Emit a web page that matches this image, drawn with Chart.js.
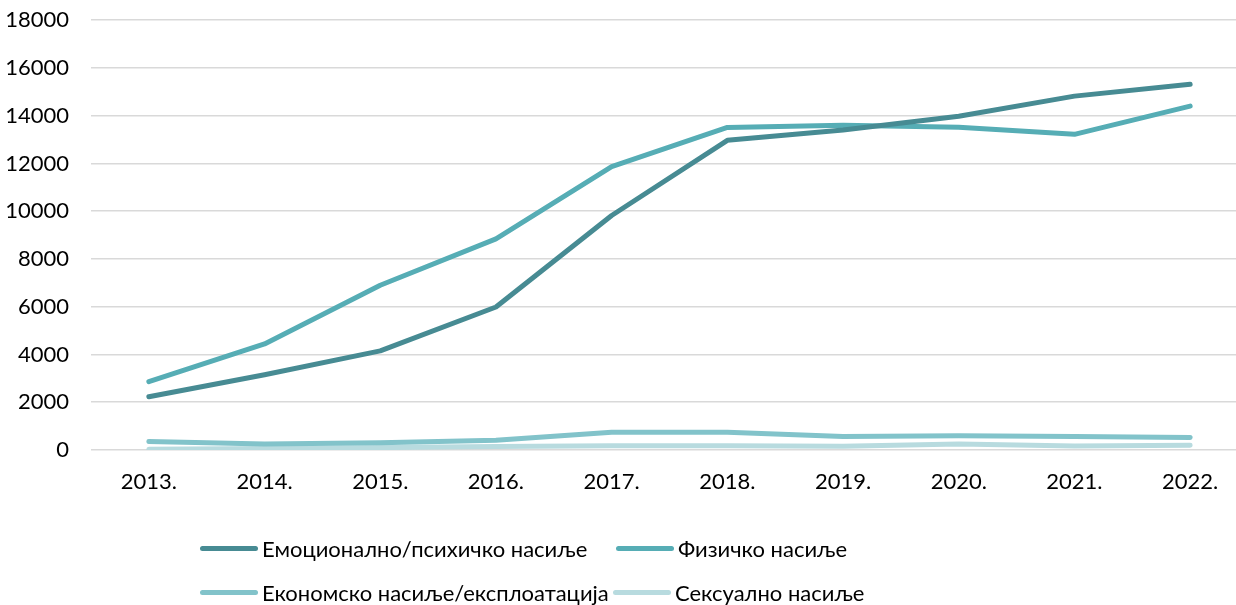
<!DOCTYPE html>
<html>
<head>
<meta charset="utf-8">
<script src="https://cdn.jsdelivr.net/npm/chart.js@4/dist/chart.umd.min.js"></script>
<style>
  html, body { margin: 0; padding: 0; background: #fff; overflow: hidden; }
  #wrap { position: relative; width: 1250px; height: 515px; margin-top: -15px; }
  #legend { position: absolute; left: 0; top: 0; width: 1236px; height: 605px; pointer-events: none; }
  .item { position: absolute; display: flex; align-items: center; font-family: Lato, sans-serif; font-size: 22px; color: #000; white-space: nowrap; }
  .item span.ln { display: inline-block; width: 58px; height: 5px; border-radius: 3px; margin-right: 4px; }
</style>
</head>
<body>
<div id="wrap"><canvas id="chart" width="1250" height="515"></canvas></div>
<div id="legend"></div>
<script>
var years = ["2013.", "2014.", "2015.", "2016.", "2017.", "2018.", "2019.", "2020.", "2021.", "2022."];
var emotional = [2230, 3150, 4150, 5990, 9820, 12970, 13400, 13980, 14820, 15320];
var physical = [2860, 4440, 6900, 8840, 11870, 13510, 13600, 13520, 13220, 14400];
var economic = [360, 250, 300, 410, 740, 740, 570, 600, 570, 520];
var sexual = [30, 60, 100, 150, 180, 180, 160, 250, 170, 195];

var names = ["Емоционално/психичко насиље", "Физичко насиље", "Економско насиље/експлоатација", "Сексуално насиље"];
var colors = ["#478b93", "#56adb5", "#82c3ca", "#b8dbdf"];

function ds(label, data, color) {
    return {
        label: label,
        data: data,
        borderColor: color,
        backgroundColor: color,
        borderWidth: 5,
        borderCapStyle: 'round',
        borderJoinStyle: 'round',
        pointRadius: 0,
        tension: 0
    };
}

var ctx = document.getElementById("chart").getContext("2d");
var chart = new Chart(ctx, {
    type: 'line',
    data: {
        labels: years,
        datasets: [
            ds(names[0], emotional, colors[0]),
            ds(names[1], physical, colors[1]),
            ds(names[2], economic, colors[2]),
            ds(names[3], sexual, colors[3])
        ]
    },
    options: {
        responsive: false,
        animation: false,
        layout: { padding: { top: 7, right: 2, bottom: 0, left: 0 } },
        scales: {
            y: {
                min: 0,
                max: 18000,
                afterFit: function (scale) { scale.width = 91; },
                grid: { color: '#d9d9d9', lineWidth: 1.5, drawTicks: false },
                border: { display: false },
                ticks: {
                    stepSize: 2000,
                    padding: 22,
                    color: '#000',
                    font: { family: 'Lato', size: 22 },
                    callback: function (v) { return String(v); }
                }
            },
            x: {
                offset: true,
                afterFit: function (scale) { scale.height = 50; },
                grid: { display: false, drawTicks: false },
                border: { display: false },
                ticks: {
                    padding: 19,
                    color: '#000',
                    font: { family: 'Lato', size: 22 }
                }
            }
        },
        plugins: {
            legend: { display: false },
            tooltip: { enabled: false }
        }
    }
});

// legend laid out in two rows like the original
var legendPos = [[200, 549], [616, 549], [200, 593], [613, 593]];
var legend = document.getElementById("legend");
names.forEach(function (name, i) {
    var el = document.createElement("div");
    el.className = "item";
    el.style.left = legendPos[i][0] + "px";
    el.style.top = (legendPos[i][1] - 14) + "px";
    el.innerHTML = '<span class="ln" style="background:' + colors[i] + '"></span>' + name;
    legend.appendChild(el);
});
</script>
</body>
</html>
